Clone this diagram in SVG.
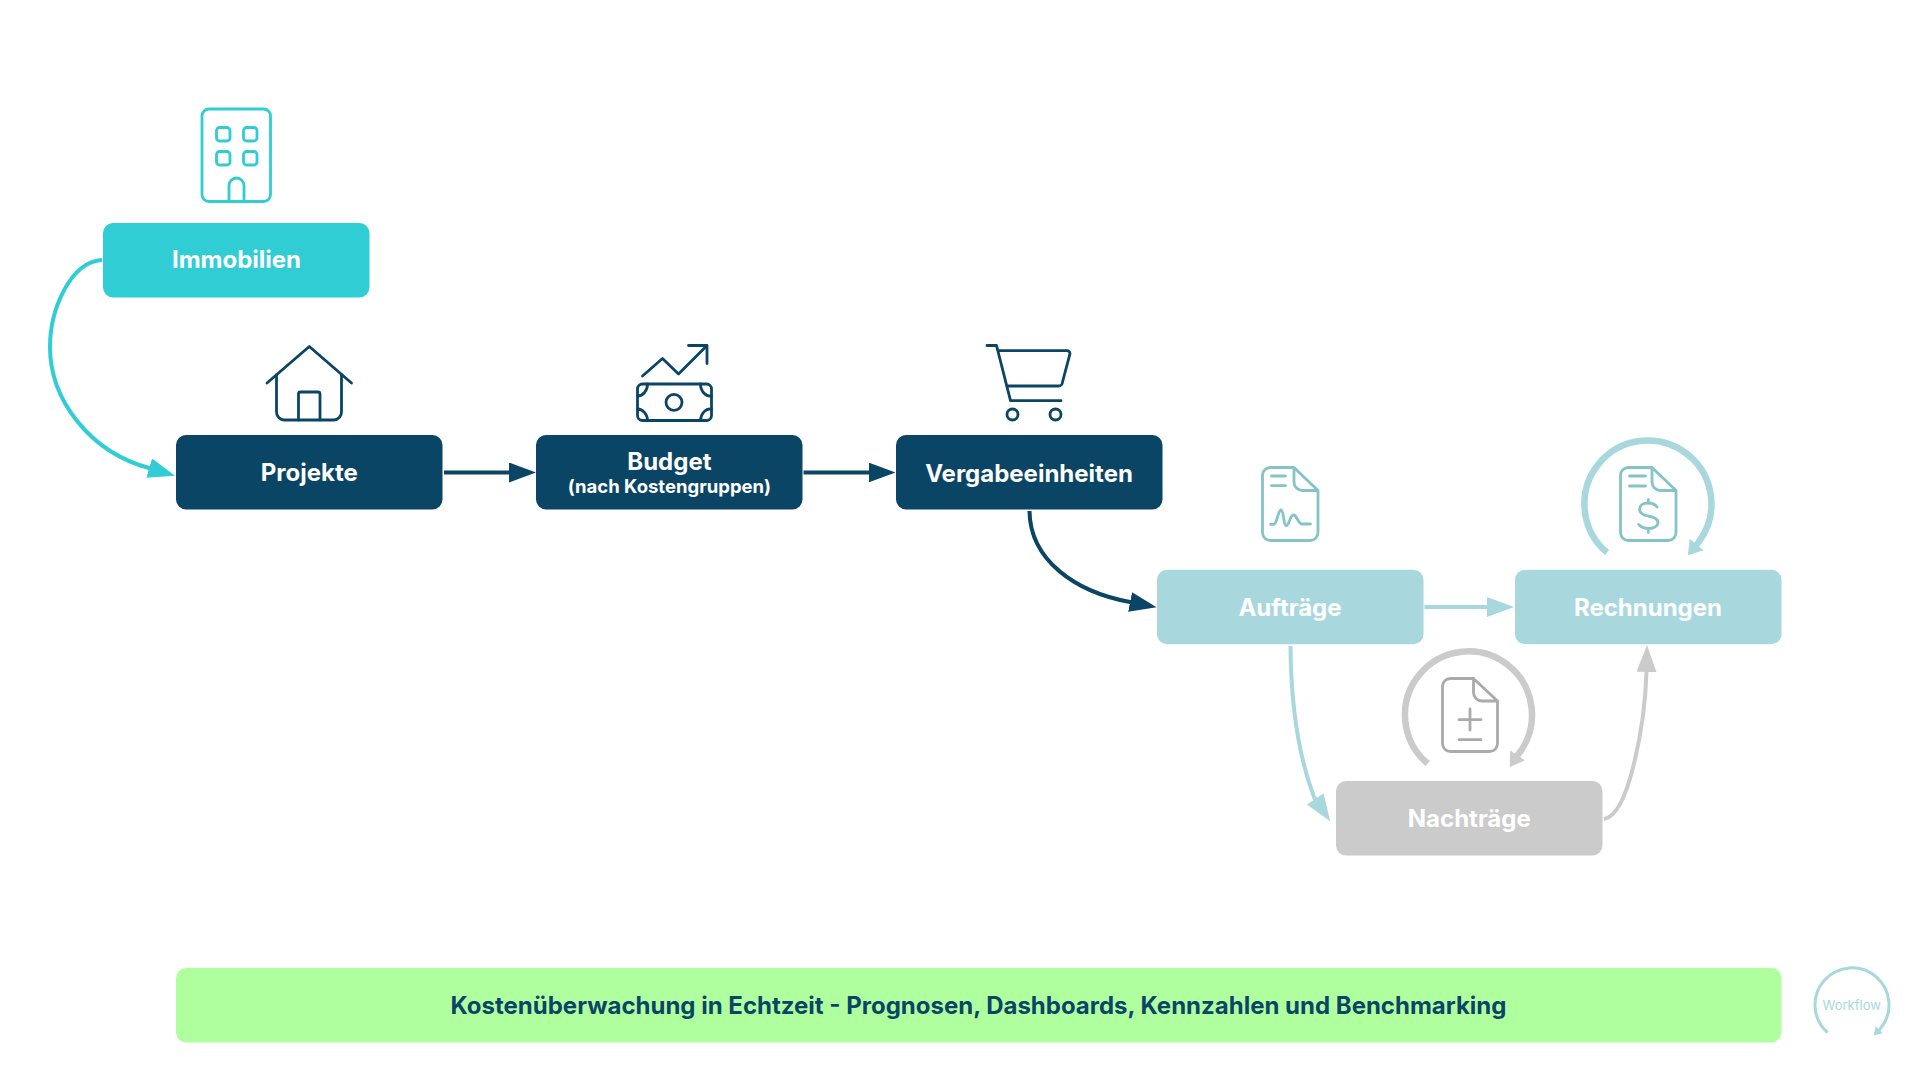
<svg xmlns="http://www.w3.org/2000/svg" width="1919" height="1070" viewBox="0 0 1919 1070">
<defs>
<style>
text{font-family:"Inter","Liberation Sans",sans-serif;text-anchor:middle;font-weight:700;fill:#fff}
.lbl{font-size:24px}
.sub{font-size:18.500px}
.ic{fill:none;stroke-width:2.800;stroke-linecap:round;stroke-linejoin:round}
.c{fill:none;stroke-width:4}
.l{fill:none;stroke-width:6.500}
.t{stroke:#30cdd5}.n{stroke:#0b4566}.b{stroke:#84c3c7}.g{stroke:#aaa}
</style>
<marker id="aT" markerUnits="userSpaceOnUse" markerWidth="30" markerHeight="24" refX="5" refY="10" orient="auto"><path d="M0 0L27 10 0 20z" fill="#30cdd5"/></marker>
<marker id="aN" markerUnits="userSpaceOnUse" markerWidth="30" markerHeight="24" refX="5" refY="10" orient="auto"><path d="M0 0L27 10 0 20z" fill="#0b4566"/></marker>
<marker id="aB" markerUnits="userSpaceOnUse" markerWidth="30" markerHeight="24" refX="5" refY="10" orient="auto"><path d="M0 0L27 10 0 20z" fill="#a8d8dd"/></marker>
<marker id="aG" markerUnits="userSpaceOnUse" markerWidth="30" markerHeight="24" refX="5" refY="10" orient="auto"><path d="M0 0L27 10 0 20z" fill="#cbcbcb"/></marker>
<marker id="sB" markerUnits="userSpaceOnUse" markerWidth="18" markerHeight="20" refX="2" refY="9" orient="auto"><path d="M0 0L14 9 0 18z" fill="#a8d8dd"/></marker>
<marker id="sG" markerUnits="userSpaceOnUse" markerWidth="18" markerHeight="20" refX="2" refY="9" orient="auto"><path d="M0 0L14 9 0 18z" fill="#cbcbcb"/></marker>
<marker id="wB" markerUnits="userSpaceOnUse" markerWidth="12" markerHeight="12" refX="1" refY="5" orient="auto"><path d="M0 0L8 5 0 10z" fill="#a8d8dd"/></marker>
</defs>
<rect width="1919" height="1070" fill="#fff"/>
<g id="connectors">
<path class="c" stroke="#30cdd5" marker-end="url(#aT)" d="M102 260C70 262 50 310 50 347C50 400 90 452 149 468L154 469.500"/>
<path class="c" stroke="#0b4566" marker-end="url(#aN)" d="M444 472.500H514"/>
<path class="c" stroke="#0b4566" marker-end="url(#aN)" d="M803.500 472.500H873.500"/>
<path class="c" stroke="#0b4566" marker-end="url(#aN)" d="M1029.500 511C1030 560 1075 592 1130 602L1135 603"/>
<path class="c" stroke="#a8d8dd" marker-end="url(#aB)" d="M1424.500 607H1492"/>
<path class="c" stroke="#a8d8dd" marker-end="url(#aB)" d="M1290.500 646C1291 710 1300 760 1314 797L1318 803"/>
<path class="c" stroke="#cbcbcb" marker-end="url(#aG)" d="M1604 819C1630 815 1645 720 1646.500 672L1646.600 667"/>
<path class="l" stroke="#a8d8dd" marker-end="url(#sB)" d="M1607 552.500A63.500 63.500 0 1 1 1698 543L1695.500 546"/>
<path class="l" stroke="#cbcbcb" marker-end="url(#sG)" d="M1427.700 763.500A63.500 63.500 0 1 1 1518.500 754L1516.500 757"/>
<path fill="none" stroke="#a8d8dd" stroke-width="3" marker-end="url(#wB)" d="M1827.700 1032.700A37 37 0 1 1 1880 1029L1878.500 1030.500"/>
</g>
<g id="immobilien">
<rect x="103" y="223" width="266.500" height="74.500" rx="10" fill="#30cdd5"/>
<text class="lbl" x="236.500" y="268">Immobilien</text>
<g class="ic t"><rect x="202" y="109" width="68.500" height="92.500" rx="7"/><rect x="216.500" y="127.500" width="13.500" height="13.500" rx="3"/><rect x="243.500" y="127.500" width="13.500" height="13.500" rx="3"/><rect x="216.500" y="151.500" width="13.500" height="13.500" rx="3"/><rect x="243.500" y="151.500" width="13.500" height="13.500" rx="3"/><path d="M229 201V185.500a7.500 7.500 0 0 1 15 0V201"/></g>
</g>
<g id="projekte">
<rect x="176" y="435" width="266.500" height="74.500" rx="10" fill="#0b4566"/>
<text class="lbl" x="309.300" y="481">Projekte</text>
<g class="ic n"><path d="M267 383L309.300 346.500 351.500 383"/><path d="M276.500 375V411.500a8 8 0 0 0 8 8.500H333.500a8 8 0 0 0 8-8.500V375"/><path d="M298.500 420V394a2 2 0 0 1 2-2H318a2 2 0 0 1 2 2V420"/></g>
</g>
<g id="budget">
<rect x="536" y="435" width="266.500" height="74.500" rx="10" fill="#0b4566"/>
<text class="lbl" x="669.400" y="470">Budget</text>
<text class="sub" x="669.400" y="493">(nach Kostengruppen)</text>
<g class="ic n"><path d="M642.500 376L662.500 358.500 678.500 374 706.500 346"/><path d="M688.500 345.500H707V363.500"/><rect x="637.500" y="384" width="74" height="36.500" rx="5"/><circle cx="674" cy="402.300" r="8"/><path d="M647.500 384a10 12 0 0 1-10 12M700.500 384a10 12 0 0 0 11 12M637.500 409a10 12 0 0 1 10 11.500M711.500 409a10 12 0 0 0-11 11.500"/></g>
</g>
<g id="vergabeeinheiten">
<rect x="896" y="435" width="266.500" height="74.500" rx="10" fill="#0b4566"/>
<text class="lbl" x="1029" y="482">Vergabeeinheiten</text>
<g class="ic n"><path d="M987 345.500H996.500L1010.500 400.700H1061"/><path d="M999 350.700H1067a3 3 0 0 1 3 3L1062.500 382a4 4 0 0 1-4 4H1007"/><circle cx="1012.500" cy="414.500" r="5.500"/><circle cx="1055.500" cy="414.500" r="5.500"/></g>
</g>
<g id="auftraege">
<rect x="1157" y="569.700" width="266.500" height="74.500" rx="10" fill="#a8d8dd"/>
<text class="lbl" x="1290" y="616">Aufträge</text>
<g class="ic b"><path d="M1294 467.500H1270.500a8 8 0 0 0-8 8V532.500a8 8 0 0 0 8 8H1310a8 8 0 0 0 8-8V490.500L1294 467.500ZM1294 467.500V482a8.500 8.500 0 0 0 8.500 8.500H1318"/><path d="M1271.500 476H1285.500M1271.500 485.700H1285.500"/><path d="M1270.500 524.300H1274C1277 524 1278 510 1281 510C1284 510 1283 525.500 1286.500 525.500C1289 525.500 1290 515 1293.500 515C1297 515 1298 524 1302 524H1310.500"/></g>
</g>
<g id="rechnungen">
<rect x="1515" y="569.700" width="266.500" height="74.500" rx="10" fill="#a8d8dd"/>
<text class="lbl" x="1648" y="616">Rechnungen</text>
<g class="ic b"><path d="M1652 467.500H1628.500a8 8 0 0 0-8 8V532.500a8 8 0 0 0 8 8H1668a8 8 0 0 0 8-8V490.500L1652 467.500ZM1652 467.500V482a8.500 8.500 0 0 0 8.500 8.500H1676"/><path d="M1629.500 476H1645.500M1629.500 486H1645.500"/><path d="M1657 507C1655 504 1652 503 1648 503C1642.500 503 1639.500 506 1639.500 509.500C1639.500 513 1643 515 1648 516C1654 517 1658 519 1658 522.500C1658 526 1654 528.500 1648.500 528.500C1644 528.500 1641 527 1638.700 524.500M1648.300 499.500V503M1648.300 528.500V532.500"/></g>
</g>
<g id="nachtraege">
<rect x="1336" y="781" width="266.500" height="74.500" rx="10" fill="#cbcbcb"/>
<text class="lbl" x="1469.300" y="827">Nachträge</text>
<g class="ic g"><path d="M1473.500 678.500H1450.500a8 8 0 0 0-8 8V743.500a8 8 0 0 0 8 8H1489.500a8 8 0 0 0 8-8V701L1473.500 678.500ZM1473.500 678.500V692.500a8.500 8.500 0 0 0 8.500 8.500H1497.500"/><path d="M1459 719.700H1481M1470 709V730M1459 739.700H1481"/></g>
</g>
<g id="kostenueberwachung">
<rect x="176" y="968" width="1605.500" height="74.500" rx="10" fill="#b0ff9f"/>
<text class="lbl" x="978.500" y="1014" style="fill:#0b4566">Kostenüberwachung in Echtzeit - Prognosen, Dashboards, Kennzahlen und Benchmarking</text>
</g>
<g id="workflow"><text x="1851.700" y="1010" style="fill:#a8d8dd;font-weight:400;font-size:13px">Workflow</text></g>
</svg>
